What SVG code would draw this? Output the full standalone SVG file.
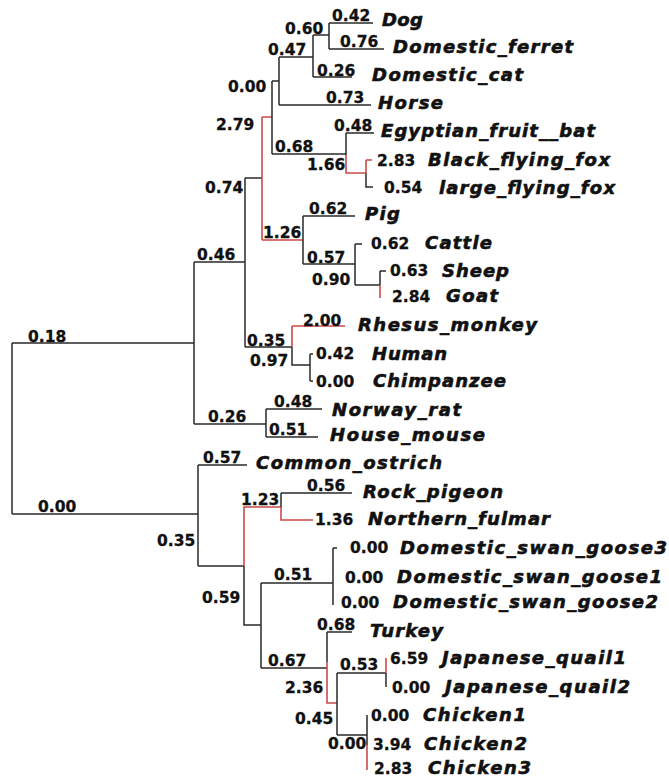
<svg xmlns="http://www.w3.org/2000/svg" width="669" height="781" viewBox="0 0 669 781">
<style>
.e{fill:none;stroke:#2a2a2a;stroke-width:1.5}
.r{fill:none;stroke:#cc4a4a;stroke-width:1.6}
.n{font-family:"DejaVu Sans",sans-serif;font-weight:bold;font-size:15.5px;fill:#111;stroke:#111;stroke-width:0.3}
.t{font-family:"DejaVu Sans",sans-serif;font-weight:bold;font-style:oblique;font-size:18px;fill:#111;stroke:#111;stroke-width:0.6}
</style>
<rect width="669" height="781" fill="#fff"/>
<g id="connectors">
<path class="e" d="M12,343V514M12,343H194M12,514H198"/>
<path class="e" d="M194,262V424M194,262H245M194,424H266"/>
<path class="e" d="M245,178V347M245,178H262M245,347H292"/>
<path class="r" d="M262,117V240M262,117H272M262,240H303"/>
<path class="e" d="M272,81V154M272,81H279M272,154H346"/>
<path class="e" d="M279,57V105M279,57H313M279,105H371"/>
<path class="e" d="M313,35V77M313,35H329M313,77H352"/>
<path class="e" d="M329,23V49M329,23H373M329,49H384"/>
<path class="e" d="M346,133V155M346,133H374M366,173V187H373"/>
<path class="r" d="M346,155V173H366M366,160V173M366,160H372"/>
<path class="e" d="M303,216V264M303,216H355M303,264H355"/>
<path class="e" d="M355,244V285M355,244H362M355,285H380M380,271V285M380,271H386"/>
<path class="r" d="M380,285V298"/>
<path class="r" d="M292,326V347M292,326H345"/>
<path class="e" d="M292,347V365H310M310,354V381M310,354H313M310,381H313"/>
<path class="e" d="M266,409V437M266,409H322M266,437H318"/>
<path class="e" d="M198,465V566M198,465H247M198,566H244"/>
<path class="r" d="M244,566V507H281M281,507V520H313"/>
<path class="e" d="M244,566V625H261M281,493V507M281,493H352"/>
<path class="e" d="M261,583V668M261,583H333M261,668H327M333,548V605M333,548H337"/>
<path class="e" d="M327,632V662M327,632H352"/>
<path class="r" d="M327,662V703H337"/>
<path class="e" d="M337,673V735M337,673H386M337,735H367M386,673V687M367,715V745"/>
<path class="r" d="M386,658V673M367,745V770"/>
</g>
<g id="internal-labels">
<text class="n" x="28" y="341.5">0.18</text>
<text class="n" x="38" y="512">0.00</text>
<text class="n" x="197" y="260">0.46</text>
<text class="n" x="205" y="193">0.74</text>
<text class="n" x="216" y="130">2.79</text>
<text class="n" x="228" y="91.5">0.00</text>
<text class="n" x="268" y="55">0.47</text>
<text class="n" x="285" y="34">0.60</text>
<text class="n" x="275" y="151.5">0.68</text>
<text class="n" x="307" y="170">1.66</text>
<text class="n" x="263" y="237.5">1.26</text>
<text class="n" x="307" y="262.5">0.57</text>
<text class="n" x="312" y="285">0.90</text>
<text class="n" x="247" y="345.5">0.35</text>
<text class="n" x="250" y="365.5">0.97</text>
<text class="n" x="208" y="421.5">0.26</text>
<text class="n" x="157" y="545.5">0.35</text>
<text class="n" x="241" y="505">1.23</text>
<text class="n" x="202" y="603">0.59</text>
<text class="n" x="274" y="580">0.51</text>
<text class="n" x="268" y="665.5">0.67</text>
<text class="n" x="285" y="693">2.36</text>
<text class="n" x="340" y="670">0.53</text>
<text class="n" x="295" y="723.5">0.45</text>
<text class="n" x="328" y="748.5">0.00</text>
</g>
<g id="Dog"><text class="n" x="332" y="20.5">0.42</text><text class="t" x="382" y="26" textLength="41">Dog</text></g>
<g id="Domestic_ferret"><text class="n" x="340" y="47">0.76</text><text class="t" x="393" y="53" textLength="180">Domestic_ferret</text></g>
<g id="Domestic_cat"><text class="n" x="317" y="75.5">0.26</text><text class="t" x="372" y="80.5" textLength="151">Domestic_cat</text></g>
<g id="Horse"><text class="n" x="326" y="102.5">0.73</text><text class="t" x="378" y="108.5" textLength="65">Horse</text></g>
<g id="Egyptian_fruit__bat"><text class="n" x="334" y="130.5">0.48</text><text class="t" x="381" y="136.5" textLength="214">Egyptian_fruit__bat</text></g>
<g id="Black_flying_fox"><text class="n" x="377" y="165.5">2.83</text><text class="t" x="428" y="166" textLength="182">Black_flying_fox</text></g>
<g id="large_flying_fox"><text class="n" x="384" y="193">0.54</text><text class="t" x="439" y="194" textLength="176">large_flying_fox</text></g>
<g id="Pig"><text class="n" x="309" y="214">0.62</text><text class="t" x="365" y="219.5" textLength="35">Pig</text></g>
<g id="Cattle"><text class="n" x="371" y="248.5">0.62</text><text class="t" x="425" y="249" textLength="67">Cattle</text></g>
<g id="Sheep"><text class="n" x="390" y="276">0.63</text><text class="t" x="442" y="276.5" textLength="67">Sheep</text></g>
<g id="Goat"><text class="n" x="392" y="302">2.84</text><text class="t" x="446" y="302" textLength="52">Goat</text></g>
<g id="Rhesus_monkey"><text class="n" x="303" y="325.5">2.00</text><text class="t" x="358" y="330.5" textLength="179">Rhesus_monkey</text></g>
<g id="Human"><text class="n" x="316" y="359">0.42</text><text class="t" x="372" y="360" textLength="75">Human</text></g>
<g id="Chimpanzee"><text class="n" x="316" y="386.5">0.00</text><text class="t" x="373" y="387" textLength="133">Chimpanzee</text></g>
<g id="Norway_rat"><text class="n" x="274" y="407">0.48</text><text class="t" x="332" y="415.5" textLength="129">Norway_rat</text></g>
<g id="House_mouse"><text class="n" x="269" y="435">0.51</text><text class="t" x="330" y="441" textLength="155">House_mouse</text></g>
<g id="Common_ostrich"><text class="n" x="203" y="463">0.57</text><text class="t" x="256" y="469" textLength="186">Common_ostrich</text></g>
<g id="Rock_pigeon"><text class="n" x="307" y="490.5">0.56</text><text class="t" x="363" y="498" textLength="140">Rock_pigeon</text></g>
<g id="Northern_fulmar"><text class="n" x="315" y="524.5">1.36</text><text class="t" x="368" y="525" textLength="182">Northern_fulmar</text></g>
<g id="Domestic_swan_goose3"><text class="n" x="350" y="553">0.00</text><text class="t" x="400" y="553.5" textLength="267">Domestic_swan_goose3</text></g>
<g id="Domestic_swan_goose1"><text class="n" x="345" y="583">0.00</text><text class="t" x="397" y="583" textLength="265">Domestic_swan_goose1</text></g>
<g id="Domestic_swan_goose2"><text class="n" x="341" y="608">0.00</text><text class="t" x="393" y="608" textLength="265">Domestic_swan_goose2</text></g>
<g id="Turkey"><text class="n" x="317" y="630">0.68</text><text class="t" x="370" y="636.5" textLength="73">Turkey</text></g>
<g id="Japanese_quail1"><text class="n" x="390" y="664">6.59</text><text class="t" x="442" y="664" textLength="184">Japanese_quail1</text></g>
<g id="Japanese_quail2"><text class="n" x="392" y="693">0.00</text><text class="t" x="445" y="693" textLength="185">Japanese_quail2</text></g>
<g id="Chicken1"><text class="n" x="371" y="721">0.00</text><text class="t" x="423" y="721" textLength="103">Chicken1</text></g>
<g id="Chicken2"><text class="n" x="373" y="749.5">3.94</text><text class="t" x="424" y="750" textLength="103">Chicken2</text></g>
<g id="Chicken3"><text class="n" x="374" y="773.5">2.83</text><text class="t" x="428" y="774" textLength="103">Chicken3</text></g>
</svg>
